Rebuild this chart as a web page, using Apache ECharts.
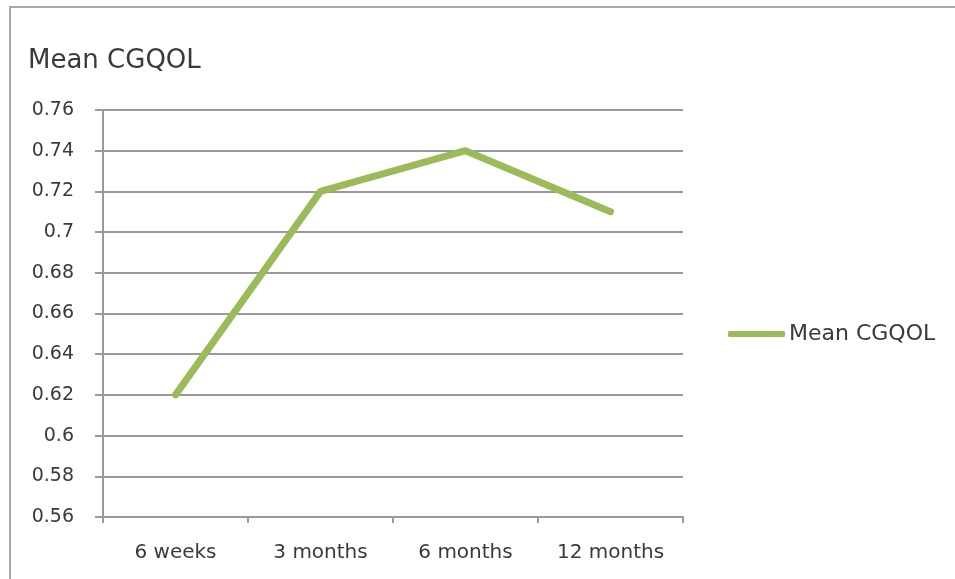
<!DOCTYPE html>
<html>
<head>
<meta charset="utf-8">
<script src="https://cdn.jsdelivr.net/npm/echarts@6/dist/echarts.min.js"></script>
<style>
html,body{margin:0;padding:0;background:#fff;}
#c{width:955px;height:579px;}
</style>
</head>
<body>
<div id="c"></div>
<script>
var categories = ['6 weeks', '3 months', '6 months', '12 months'];
var meanCGQOL = [0.62, 0.72, 0.74, 0.71];
var seriesName = 'Mean CGQOL';
var titleText = 'Mean CGQOL';

var chart = echarts.init(document.getElementById('c'));
var font = 'DejaVu Sans';
chart.setOption({
  animation: false,
  backgroundColor: '#fff',
  title: {
    text: titleText,
    left: 28, top: 48, padding: 0,
    textStyle: { fontFamily: font, fontSize: 26, fontWeight: 'normal', color: '#3a3a3a' }
  },
  legend: {
    data: [{ name: seriesName, icon: 'roundRect' }],
    left: 728, top: 323, padding: 0,
    itemWidth: 57, itemHeight: 6, itemGap: 0,
    textStyle: { fontFamily: font, fontSize: 22, color: '#3a3a3a', padding: [0,0,0,-1] }
  },
  graphic: [{
    type: 'rect', silent: true,
    shape: { x: 10, y: 7, width: 1000, height: 1000 },
    style: { fill: 'none', stroke: '#a8a8a8', lineWidth: 2 }
  }],
  grid: { left: 103, right: 272, top: 110, bottom: 62, containLabel: false },
  xAxis: {
    type: 'category',
    data: categories,
    boundaryGap: true,
    axisLine: { show: true, lineStyle: { color: '#999', width: 2 } },
    axisTick: { show: true, length: 6, alignWithLabel: false, lineStyle: { color: '#999', width: 2 } },
    axisLabel: { fontFamily: font, fontSize: 20, color: '#3a3a3a', margin: 26 },
    splitLine: { show: false }
  },
  yAxis: {
    type: 'value',
    min: 0.56, max: 0.76, interval: 0.02,
    axisLine: { show: true, lineStyle: { color: '#999', width: 2 } },
    axisTick: { show: true, length: 8, lineStyle: { color: '#999', width: 2 } },
    axisLabel: { fontFamily: font, fontSize: 19, color: '#3a3a3a', margin: 29,
      formatter: function (v) { return String(Math.round(v * 100) / 100); } },
    splitLine: { show: true, lineStyle: { color: '#999', width: 2 } }
  },
  series: [{
    name: seriesName,
    type: 'line',
    data: meanCGQOL,
    symbol: 'none',
    lineStyle: { color: '#9bbb59', width: 7, cap: 'round', join: 'round' },
    itemStyle: { color: '#9bbb59' }
  }]
});
</script>
</body>
</html>
